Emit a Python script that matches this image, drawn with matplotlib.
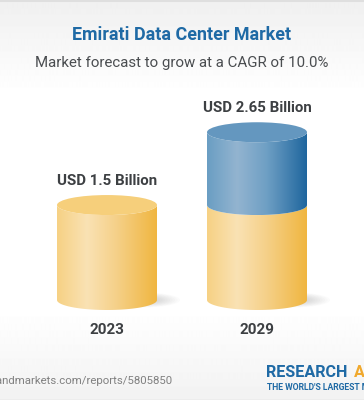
import numpy as np
import matplotlib
matplotlib.use("Agg")
import matplotlib.pyplot as plt
from matplotlib.colors import LinearSegmentedColormap
from matplotlib.patches import Ellipse, PathPatch
from matplotlib.path import Path

plt.rcParams["font.family"] = ["Roboto", "DejaVu Sans"]

YEARS = ["2023", "2029"]
VALUES = [1.5, 2.65]
VALUE_LABELS = ["USD 1.5 Billion", "USD 2.65 Billion"]
TITLE = "Emirati Data Center Market"
SUBTITLE = "Market forecast to grow at a CAGR of 10.0%"
URL = "https://www.researchandmarkets.com/reports/5805850"

PX_PER_UNIT = 63.3
PX_PER_CAT = 150.0
W, H = 364, 400
BASE_PX = 300  # pixel row of value 0
LEFT_PX = 107  # pixel column of first category
RX = 50 / PX_PER_CAT
RY = 10 / PX_PER_UNIT

YELLOW = LinearSegmentedColormap.from_list("y", [(0, "#f6d184"), (0.3, "#fae2b4"), (0.6, "#f5d088"), (1, "#f0b640")])
BLUE = LinearSegmentedColormap.from_list("b", [(0, "#6a9ec3"), (0.3, "#93b4d0"), (0.6, "#6e9fc4"), (1, "#1f669e")])
YELLOW_TOP = "#f6cf7b"
BLUE_TOP = "#6497bf"
DARK = "#3d4043"


def cylinder_side(x, y0, y1, cmap, ax, z):
    # side wall: front arc at the bottom, front arc again at the top
    t = np.linspace(np.pi, 2 * np.pi, 60)
    bx = x + RX * np.cos(t)
    by = y0 + RY * np.sin(t)
    tx = bx[::-1]
    ty = y1 + RY * np.sin(t)[::-1]
    verts = np.column_stack([np.r_[bx, tx, bx[0]], np.r_[by, ty, by[0]]])
    clip = PathPatch(Path(verts), fc="none", ec="none", transform=ax.transData)
    ax.add_patch(clip)
    grad = np.linspace(0, 1, 256).reshape(1, -1)
    im = ax.imshow(grad, cmap=cmap, aspect="auto", zorder=z, interpolation="bilinear",
                   extent=(x - RX, x + RX, y0 - RY, y1 + RY))
    im.set_clip_path(clip)


fig = plt.figure(figsize=(W / 100, H / 100), dpi=100)
ax = fig.add_axes([0, 0, 1, 1])
ax.axis("off")

xlim = (-LEFT_PX / PX_PER_CAT, (W - LEFT_PX) / PX_PER_CAT)
ylim = ((BASE_PX - H) / PX_PER_UNIT, BASE_PX / PX_PER_UNIT)


def py(px):
    return (BASE_PX - px) / PX_PER_UNIT


def px_x(px):
    return (px - LEFT_PX) / PX_PER_CAT


# page background, grey fading to white at both ends
rows = np.ones(H)
rows[:95] = np.linspace(0.94, 1.0, 95)
rows[310:] = np.linspace(1.0, 0.95, 90)
ax.imshow(rows.reshape(-1, 1), cmap="gray", vmin=0, vmax=1, aspect="auto", zorder=0,
          extent=(*xlim, ylim[0], ylim[1]), origin="upper")
ax.axhline(py(0.5), color="#dcdcdc", lw=1.2, zorder=1)
ax.axhline(py(399.5), color="#d8d8d8", lw=1.0, zorder=1)

for i, (year, val, lab) in enumerate(zip(YEARS, VALUES, VALUE_LABELS)):
    # soft floor shadow
    for k in range(12):
        ax.add_patch(Ellipse((i + 35 / PX_PER_CAT, 0.0), (76 - k * 5) / PX_PER_CAT, (15 - k) / PX_PER_UNIT,
                             fc="#555555", ec="none", alpha=0.025, zorder=2))
    base = min(VALUES)
    cylinder_side(i, 0, base, YELLOW, ax, 3)
    if val > base:
        cylinder_side(i, base, val, BLUE, ax, 4)
    ax.add_patch(Ellipse((i, val), 2 * RX, 2 * RY, fc=BLUE_TOP if val > base else YELLOW_TOP, ec="none", zorder=5))
    ax.text(i, val + 24.5 / PX_PER_UNIT, lab, ha="center", va="center", fontsize=10.8, fontweight="bold",
            color=DARK, zorder=6)
    ax.text(i, py(329.5), year, ha="center", va="center", fontsize=11, fontweight="bold", color=DARK, zorder=6)

ax.text(px_x(182), py(35), TITLE, ha="center", va="center", fontsize=12.9, fontweight="bold", color="#1f6aa5", zorder=6)
ax.text(px_x(182), py(63), SUBTITLE, ha="center", va="center", fontsize=10.8, color="#4a4d50", zorder=6)
ax.text(px_x(172), py(381.5), URL, ha="right", va="center", fontsize=8.2, color="#808080", zorder=6)
ax.text(px_x(266), py(372.5), "RESEARCH", ha="left", va="center", fontsize=11.6, fontweight="bold", color="#1f6aa5", zorder=6)
ax.text(px_x(354.5), py(372.5), "AND MARKETS", ha="left", va="center", fontsize=11.6, fontweight="bold", color="#f0a92e", zorder=6)
ax.text(px_x(267), py(387.5), "THE WORLD'S LARGEST MARKET RESEARCH STORE", ha="left", va="center", fontsize=6.2,
        fontweight="bold", color="#1f6aa5", zorder=6)

ax.set_xlim(*xlim)
ax.set_ylim(*ylim)
fig.savefig("out.png", dpi=100)
